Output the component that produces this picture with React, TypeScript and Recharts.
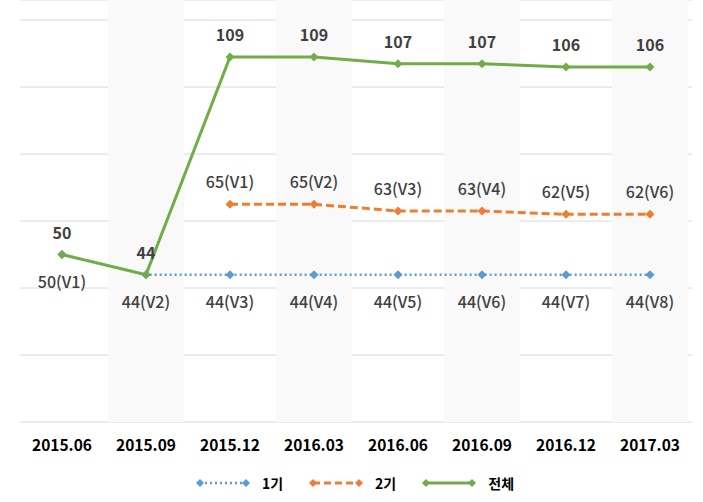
import { Bar, CartesianGrid, ComposedChart, Legend, Line, XAxis, YAxis } from "recharts";

const categories = ["2015.06", "2015.09", "2015.12", "2016.03", "2016.06", "2016.09", "2016.12", "2017.03"];
const gen1 = [50, 44, 44, 44, 44, 44, 44, 44];
const gen2 = [null, null, 65, 65, 63, 63, 62, 62];
const total = [50, 44, 109, 109, 107, 107, 106, 106];
const gen1Tags = ["V1", "V2", "V3", "V4", "V5", "V6", "V7", "V8"];
const gen2Tags = [null, null, "V1", "V2", "V3", "V4", "V5", "V6"];
const shaded = [false, true, false, true, false, true, false, true];
const yTicks = [0, 20, 40, 60, 80, 100, 120];

const Y_TOP = 126;
const FONT = "'Noto Sans CJK KR', 'Noto Sans', sans-serif";

const BLUE = "#5b9bd5";
const ORANGE = "#ed7d31";
const GREEN = "#70ad47";

const data = categories.map((cat, i) => ({
  cat,
  gen1: gen1[i],
  gen2: gen2[i],
  total: total[i],
  band: shaded[i] ? Y_TOP : null,
}));

function diamond(color: string, r: number) {
  return (props: any) => {
    const { cx, cy, value, index } = props;
    if (value == null || cy == null) return <g key={`d-${index}`} />;
    return (
      <path
        key={`d-${index}`}
        d={`M${cx},${cy - r}L${cx + r},${cy}L${cx},${cy + r}L${cx - r},${cy}Z`}
        fill={color}
      />
    );
  };
}

function tagLabel(tags: (string | null)[], below: boolean, plain: boolean) {
  return (props: any) => {
    const { x, y, value, index } = props;
    if (value == null || y == null) return <g key={`l-${index}`} />;
    const text = plain ? `${value}` : `${value}(${tags[index]})`;
    return (
      <text
        key={`l-${index}`}
        x={x}
        y={below ? y + 26 : y - 23}
        textAnchor="middle"
        dominantBaseline="central"
        fontFamily={FONT}
        fontSize={16}
        fontWeight={plain ? 700 : 500}
        fill="#404040"
      >
        {text}
      </text>
    );
  };
}

const legendItems = [
  { name: "1기", color: BLUE, dash: "2 3", width: 2.5 },
  { name: "2기", color: ORANGE, dash: "7 4", width: 3 },
  { name: "전체", color: GREEN, dash: undefined, width: 3 },
];

function LegendBox() {
  return (
    <div style={{ display: "flex", justifyContent: "center", alignItems: "center", height: 30, paddingLeft: 24 }}>
      {legendItems.map((it) => (
        <div key={it.name} style={{ display: "flex", alignItems: "center", marginRight: 26 }}>
          <svg width={54} height={12}>
            <line x1={4} y1={6} x2={50} y2={6} stroke={it.color} strokeWidth={it.width} strokeDasharray={it.dash} />
            <path d="M4,2L8,6L4,10L0,6Z" fill={it.color} />
            <path d="M50,2L54,6L50,10L46,6Z" fill={it.color} />
          </svg>
          <span style={{ marginLeft: 12, fontFamily: FONT, fontSize: 14, fontWeight: 700, color: "#000" }}>{it.name}</span>
        </div>
      ))}
    </div>
  );
}

export default function App() {
  return (
    <div style={{ position: "absolute", left: 0, top: 0, width: 703, height: 502, background: "#fff" }}>
      <ComposedChart width={703} height={502} data={data} margin={{ top: 0, right: 11, left: 20, bottom: 4 }}>
        <CartesianGrid vertical={false} stroke="#d9d9d9" />
        <XAxis
          dataKey="cat"
          axisLine={false}
          tickLine={false}
          height={46}
          tickMargin={12}
          tick={{ fontFamily: FONT, fontSize: 15.5, fontWeight: 700, fill: "#000" }}
        />
        <YAxis hide domain={[0, Y_TOP]} ticks={yTicks} />
        <Legend verticalAlign="bottom" content={() => <LegendBox />} />
        <Bar dataKey="band" fill="#f9f9f9" barSize={76} legendType="none" isAnimationActive={false} />
        <Line
          dataKey="gen1"
          stroke={BLUE}
          strokeWidth={2.5}
          strokeDasharray="2 3"
          dot={diamond(BLUE, 4.5)}
          activeDot={false}
          label={tagLabel(gen1Tags, true, false)}
          isAnimationActive={false}
        />
        <Line
          dataKey="gen2"
          stroke={ORANGE}
          strokeWidth={3}
          strokeDasharray="8 4"
          dot={diamond(ORANGE, 4.5)}
          activeDot={false}
          label={tagLabel(gen2Tags, false, false)}
          isAnimationActive={false}
        />
        <Line
          dataKey="total"
          stroke={GREEN}
          strokeWidth={3}
          dot={diamond(GREEN, 4.5)}
          activeDot={false}
          label={tagLabel([], false, true)}
          isAnimationActive={false}
        />
      </ComposedChart>
    </div>
  );
}
